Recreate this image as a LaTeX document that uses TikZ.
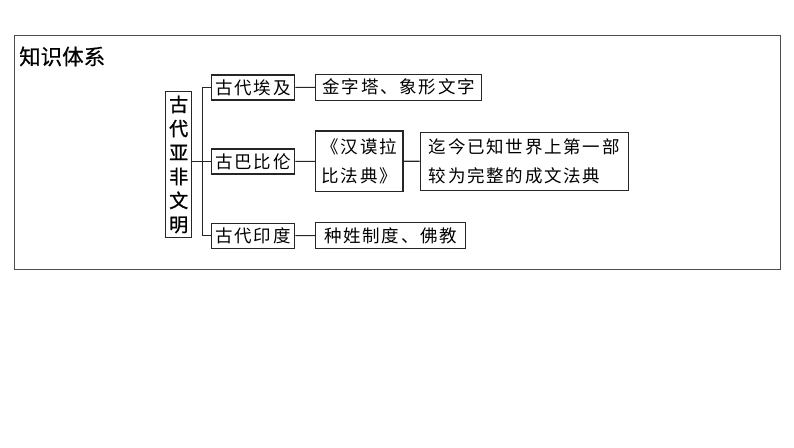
\documentclass[tikz,border=0pt]{standalone}
\usepackage{fontspec}
\newfontfamily\cjk{Noto Sans CJK SC}
\newfontfamily\cjkmid[FakeBold=1.2]{Noto Sans CJK SC}
\newfontfamily\cjktitle[FakeBold=0.5]{Noto Sans CJK SC}
\newfontfamily\cjksp[LetterSpace=10]{Noto Sans CJK SC}
\begin{document}
\begin{tikzpicture}[x=1pt,y=-1pt,
  box/.style={draw=black!85,line width=1.1pt,rectangle,inner sep=0pt,font=\cjksp\fontsize{17.5}{28.5}\selectfont},
  conn/.style={draw=black!85,line width=1.1pt}]
\useasboundingbox (0,0) rectangle (794,447);
\draw[draw=black!70,line width=1pt] (14,35.5) rectangle (780,269);
\node[anchor=west,font=\cjktitle\fontsize{21.5}{24}\selectfont,inner sep=0pt] (title) at (19,56.5) {知识体系};
\node[box,minimum width=26pt,minimum height=145.6pt,align=center,font=\cjkmid\fontsize{19}{24}\selectfont] (main) at (178.7,164.5) {古\\代\\亚\\非\\文\\明};
\node[box,minimum width=83.7pt,minimum height=25pt] (egypt) at (252.9,87.5) {古代埃及};
\node[box,minimum width=83.7pt,minimum height=25pt] (baby) at (252.9,161.5) {古巴比伦};
\node[box,minimum width=83.7pt,minimum height=25pt] (india) at (252.9,235.6) {古代印度};
\node[box,minimum width=166pt,minimum height=26pt] (pyr) at (398.7,87.3) {金字塔、象形文字};
\node[box,minimum width=87.3pt,minimum height=60.7pt,align=left] (code) at (359.3,161.3) {《汉谟拉\\比法典》};
\node[box,minimum width=208.3pt,minimum height=57.7pt,align=left] (desc) at (524.2,161.2) {迄今已知世界上第一部\\较为完整的成文法典};
\node[box,minimum width=150pt,minimum height=25.6pt] (caste) at (390.7,235.5) {种姓制度、佛教};
\coordinate (j) at (202.3,161.5);
\draw[conn] (main.east |- j) -- (j);
\draw[conn] (egypt.west) -| (j) |- (india.west);
\draw[conn] (j) -- (baby.west);
\draw[conn] (egypt) -- (pyr);
\draw[conn] (baby) -- (code);
\draw[conn] (code) -- (desc);
\draw[conn] (india) -- (caste);
\end{tikzpicture}
\end{document}
